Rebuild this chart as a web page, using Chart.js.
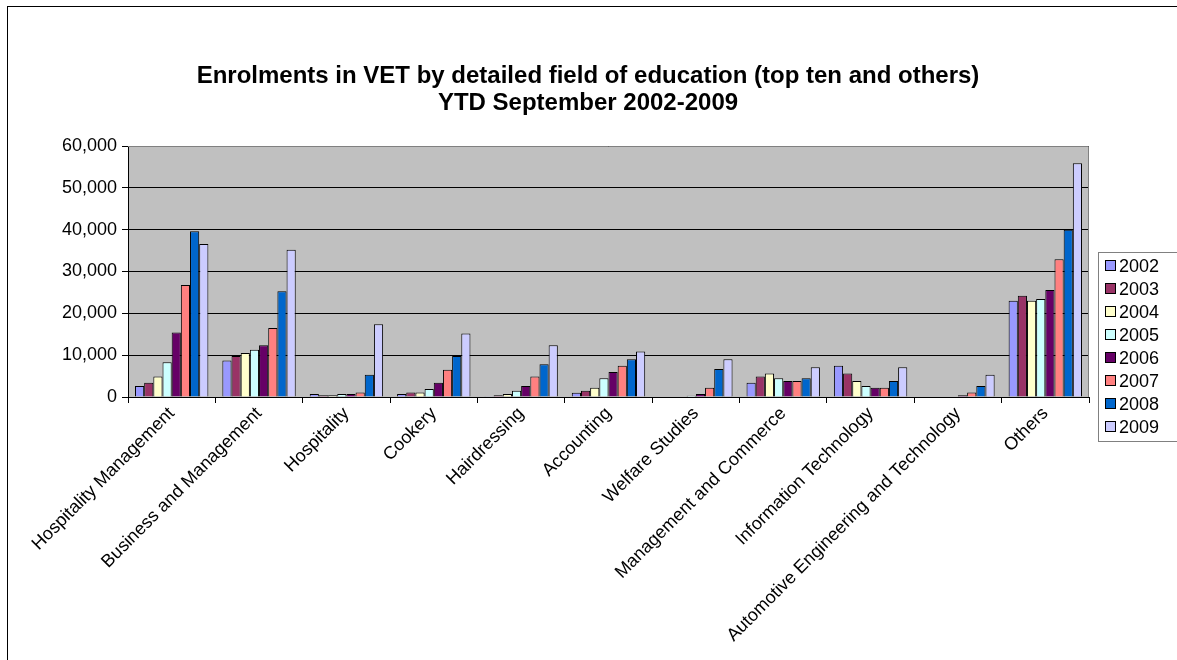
<!DOCTYPE html>
<html>
<head>
<meta charset="utf-8">
<script src="https://cdn.jsdelivr.net/npm/chart.js@4/dist/chart.umd.min.js"></script>
<style>
  html, body { margin: 0; padding: 0; background: #fff; }
  #wrap { width: 1177px; height: 660px; position: relative; }
</style>
</head>
<body>
<div id="wrap"><canvas id="chart"></canvas></div>
<script>
// categorias (eixo x)
const fields = [
    "Hospitality Management", "Business and Management", "Hospitality", "Cookery",
    "Hairdressing", "Accounting", "Welfare Studies", "Management and Commerce",
    "Information Technology", "Automotive Engineering and Technology", "Others"
];

const years = ["2002", "2003", "2004", "2005", "2006", "2007", "2008", "2009"];

// cores da paleta clássica do Excel
const yearColors = ["#9999FF", "#993366", "#FFFFCC", "#CCFFFF", "#660066", "#FF8080", "#0066CC", "#CCCCFF"];

// valores por ano, na ordem das categorias
const v2002 = [2600, 8700, 700, 700, 200, 1000, 0, 3400, 7500, 0, 23000];
const v2003 = [3400, 9800, 400, 1050, 400, 1500, 0, 4900, 5600, 0, 24200];
const v2004 = [4900, 10500, 400, 1050, 700, 2200, 0, 5600, 3800, 0, 23000];
const v2005 = [8300, 11300, 700, 1900, 1500, 4500, 300, 4500, 2600, 0, 23400];
const v2006 = [15400, 12400, 700, 3400, 2600, 6000, 700, 3800, 2200, 400, 25600];
const v2007 = [26800, 16500, 1100, 6500, 4900, 7500, 2200, 3800, 2200, 1100, 32900];
const v2008 = [39600, 25300, 5300, 9800, 7800, 9000, 6700, 4500, 3800, 2600, 40000];
const v2009 = [36600, 35200, 17400, 15200, 12400, 10900, 9000, 7100, 7100, 5300, 55900];

const seriesValues = [v2002, v2003, v2004, v2005, v2006, v2007, v2008, v2009];

const titleLines = [
    "Enrolments in VET by detailed field of education (top ten and others)",
    "YTD September 2002-2009"
];

const FONT = "'Liberation Sans', Arial, sans-serif";

// fundo cinza da área de plotagem, moldura, título e legenda
const excelLook = {
    id: 'excelLook',
    beforeDraw(chart) {
        const { ctx, chartArea: a } = chart;
        ctx.save();
        ctx.fillStyle = '#fff';
        ctx.fillRect(0, 0, chart.width, chart.height);
        ctx.fillStyle = '#C0C0C0';
        ctx.fillRect(a.left, a.top, a.right - a.left, a.bottom - a.top);
        ctx.restore();
    },
    beforeDatasetsDraw(chart) {
        const { ctx, chartArea: a } = chart;
        ctx.save();
        ctx.strokeStyle = '#808080';
        ctx.lineWidth = 1;
        ctx.beginPath();
        ctx.moveTo(a.left, a.top + 0.5);
        ctx.lineTo(a.right - 0.5, a.top + 0.5);
        ctx.lineTo(a.right - 0.5, a.bottom);
        ctx.stroke();
        ctx.restore();
    },
    afterDraw(chart) {
        const ctx = chart.ctx;
        ctx.save();
        // moldura externa
        ctx.strokeStyle = '#000';
        ctx.lineWidth = 1;
        ctx.strokeRect(7.5, 6.5, 1300, 800);

        // título
        ctx.fillStyle = '#000';
        ctx.font = 'bold 24px ' + FONT;
        ctx.textAlign = 'center';
        ctx.textBaseline = 'middle';
        ctx.fillText(titleLines[0], 588, 76);
        ctx.fillText(titleLines[1], 588, 103);

        // legenda
        ctx.strokeStyle = '#808080';
        ctx.strokeRect(1098.5, 252.5, 200, 189);
        ctx.font = '18px ' + FONT;
        ctx.textAlign = 'left';
        chart.data.datasets.forEach((ds, i) => {
            const y = 266 + i * 23;
            ctx.fillStyle = ds.backgroundColor;
            ctx.fillRect(1105.5, y - 5.5, 10, 10);
            ctx.strokeStyle = '#000';
            ctx.strokeRect(1105.5, y - 5.5, 10, 10);
            ctx.fillStyle = '#000';
            ctx.fillText(ds.label, 1119, y + 1);
        });
        ctx.restore();
    }
};

new Chart(document.getElementById('chart'), {
    type: 'bar',
    data: {
        labels: fields,
        datasets: years.map((y, i) => ({
            label: y,
            data: seriesValues[i],
            backgroundColor: yearColors[i],
            borderColor: '#000',
            borderWidth: 1,
            barPercentage: 1,
            categoryPercentage: 0.84
        }))
    },
    options: {
        responsive: true,
        maintainAspectRatio: false,
        animation: false,
        layout: { padding: { left: 0, top: 146, right: 88, bottom: 0 } },
        plugins: {
            legend: { display: false },
            title: { display: false },
            tooltip: { enabled: false }
        },
        scales: {
            x: {
                grid: { display: true, drawOnChartArea: false, drawTicks: true, tickLength: 6, offset: true, color: '#000' },
                border: { display: true, color: '#000', width: 1 },
                ticks: {
                    color: '#000',
                    font: { family: FONT, size: 18 },
                    minRotation: 45,
                    maxRotation: 45,
                    autoSkip: false,
                    padding: 0
                },
                afterFit(scale) { scale.height = 263; }
            },
            y: {
                min: 0,
                max: 60000,
                grid: { color: '#000', lineWidth: 1, drawTicks: true, tickLength: 6 },
                border: { display: true, color: '#000', width: 1 },
                ticks: {
                    stepSize: 10000,
                    color: '#000',
                    padding: 5,
                    font: { family: FONT, size: 18 },
                    callback: v => v.toLocaleString('en-US')
                },
                afterFit(scale) { scale.width = 128; }
            }
        }
    },
    plugins: [excelLook]
});
</script>
</body>
</html>
